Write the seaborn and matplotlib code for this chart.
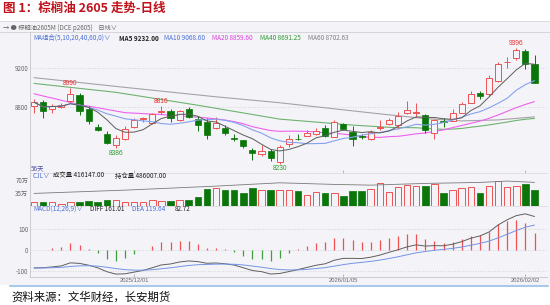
import numpy as np
import pandas as pd
import matplotlib
matplotlib.use("Agg")
import matplotlib.pyplot as plt
import seaborn as sns
from matplotlib.patches import Rectangle
from matplotlib.lines import Line2D

# ---------------- data ----------------
dates_tick_idx = [11, 34, 54]
dates_tick_lbl = ["2025/12/01", "2026/01/05", "2026/02/02"]

opens = [8810, 8850, 8777, 8805, 8862, 8920, 8777, 8600, 8533, 8415,
         8482, 8597, 8680, 8642, 8748, 8766, 8675, 8780, 8685, 8648,
         8588, 8595, 8490, 8465, 8370, 8330, 8360, 8252, 8430, 8482,
         8512, 8535, 8592, 8500, 8630, 8555, 8505, 8478, 8590, 8632,
         8625, 8742, 8745, 8722, 8545, 8660, 8665, 8745, 8845, 8945,
         8935, 9068, 9255, 9295, 9368, 9232]
highs = [8878, 8870, 8830, 8840, 8990, 8946, 8810, 8635, 8556, 8515,
         8614, 8692, 8705, 8745, 8816, 8785, 8768, 8800, 8710, 8690,
         8700, 8620, 8530, 8472, 8385, 8420, 8380, 8420, 8520, 8530,
         8575, 8590, 8620, 8670, 8640, 8615, 8530, 8575, 8670, 8690,
         8750, 8865, 8840, 8730, 8680, 8690, 8778, 8850, 8962, 8960,
         9120, 9255, 9310, 9396, 9390, 9325]
lows = [8746, 8695, 8743, 8790, 8855, 8726, 8631, 8560, 8425, 8386,
        8470, 8590, 8655, 8630, 8730, 8650, 8665, 8695, 8560, 8475,
        8580, 8520, 8455, 8392, 8270, 8310, 8255, 8230, 8395, 8470,
        8505, 8515, 8500, 8495, 8575, 8405, 8480, 8470, 8570, 8620,
        8578, 8735, 8705, 8540, 8482, 8605, 8660, 8738, 8840, 8885,
        8910, 9050, 9200, 9275, 9185, 9045]
closes = [8850, 8760, 8810, 8820, 8936, 8766, 8660, 8568, 8440, 8490,
          8580, 8668, 8690, 8735, 8758, 8695, 8760, 8705, 8625, 8523,
          8642, 8545, 8482, 8405, 8340, 8362, 8285, 8404, 8480, 8478,
          8540, 8557, 8508, 8655, 8585, 8482, 8495, 8548, 8597, 8675,
          8715, 8775, 8752, 8570, 8670, 8652, 8745, 8828, 8935, 8908,
          9098, 9240, 9260, 9375, 9240, 9048]

# moving-average segments that need history before the window (read anchors)
ma20_head_idx = [0, 5, 10, 14, 18]
ma20_head_val = [8935, 8827, 8745, 8726, 8700]
ma40_head_idx = [0, 9, 18, 27, 35]
ma40_head_val = [9040, 8950, 8820, 8680, 8620]
ma60_idx = [0, 10, 20, 27, 37, 43, 47, 51, 55]
ma60_val = [9098, 9000, 8905, 8845, 8743, 8685, 8662, 8672, 8703]

# volume (万手)
volume = [9.9, 8.3, 8.3, 5.5, 9.9, 9.0, 12.7, 11.0, 15.4, 14.6,
          8.3, 9.9, 9.9, 14.6, 12.7, 12.0, 15.4, 14.6, 23.7, 46.8,
          49.6, 42.2, 42.2, 34.7, 49.6, 44.1, 44.1, 42.2, 42.2, 39.4,
          30.3, 36.6, 34.7, 35.6, 26.5, 40.2, 40.2, 44.9, 62.3, 36.6,
          51.3, 56.0, 52.5, 52.5, 57.9, 34.7, 42.2, 49.6, 51.3, 34.7,
          52.5, 67.0, 51.3, 52.5, 57.9, 41.6]
# open interest (万手), read at a few points
oi_idx = [0, 10, 20, 27, 33, 37, 43, 49, 52, 55]
oi_val = [25.4, 32.3, 40.7, 47.7, 44.3, 42.8, 46.4, 48.5, 51.3, 48.6]

# MACD histogram
macd_hist = [1, 2, 8, 14.5, 35, 24, 5, -16, -43, -53,
             -40, -19, -2, 19, 37, 37, 45, 44, 30, 11,
             11, 3, -8, -27, -43, -43, -53, -38, -16, 3,
             19, 32, 37, 57, 60, 48, 37, 40, 48, 60,
             68, 77, 77, 52, 45, 35, 40, 52, 68, 72,
             88, 125, 140, 144, 129, 82.72]
dea_start = -87

ext_high = [(4, "8990"), (14, "8816"), (53, "9396")]
ext_low = [(9, "8386"), (27, "8230")]

# ---------------- styling ----------------
sns.set_theme(style="white")
plt.rcParams['font.family'] = ['Noto Sans CJK SC', 'DejaVu Sans']
plt.rcParams['axes.unicode_minus'] = False

W, H = 550, 305
BG = '#f4f4f8'
UP = '#ee5252'
DN = '#0a760a'
GRID = '#c9c9cf'

fig = plt.figure(figsize=(W / 100, H / 100), dpi=100)
fig.patch.set_facecolor('white')


def box(x0, y0, x1, y1):
    return [x0 / W, 1 - y1 / H, (x1 - x0) / W, (y1 - y0) / H]


def fy(y):
    return 1 - y / H


fig.add_artist(Rectangle((0, fy(285)), 1, (285 - 21) / H, transform=fig.transFigure,
                         facecolor=BG, edgecolor='none', zorder=0))
fig.add_artist(Line2D([0, 1], [fy(21), fy(21)], color='#d4d8e0', lw=0.6, transform=fig.transFigure))
fig.add_artist(Line2D([0, 1], [fy(32), fy(32)], color='#d0d0d6', lw=0.6, transform=fig.transFigure))
fig.add_artist(Line2D([10 / W, 548 / W], [fy(286), fy(286)], color='#a9c9ea', lw=1.5,
                      transform=fig.transFigure))

n = len(closes)
x = np.arange(n)
XL = ((30 - 34) / 9.1, (547 - 34) / 9.1)

ax = fig.add_axes(box(30, 32, 547, 173))
axv = fig.add_axes(box(30, 173, 547, 205.5))
axm = fig.add_axes(box(30, 205.5, 547, 276.7))

for a in (ax, axv, axm):
    a.set_facecolor('none')
    a.set_xlim(*XL)
    for s in ('top', 'right', 'bottom'):
        a.spines[s].set_visible(False)
    a.spines['left'].set_color('#c4c4cc')
    a.spines['left'].set_linewidth(0.6)
    a.tick_params(axis='y', length=0, pad=1.2, labelsize=4.5, labelcolor='#666666')
    a.set_xticks(dates_tick_idx)
    a.tick_params(axis='x', direction='in', length=2.5, width=0.5, color='#a0a0a0',
                  labelbottom=False, bottom=True)
axm.spines['bottom'].set_visible(True)
axm.spines['bottom'].set_color('#c4c4cc')
axm.spines['bottom'].set_linewidth(0.6)
axv.spines['top'].set_visible(True)
axv.spines['top'].set_color('#d6d6dc')
axv.spines['top'].set_linewidth(0.5)
axm.spines['top'].set_visible(True)
axm.spines['top'].set_color('#d6d6dc')
axm.spines['top'].set_linewidth(0.5)

# ---------------- main candles ----------------
ax.set_ylim(8137, 9558)
ax.set_yticks([8800, 9200])
ax.set_yticklabels(['8800', '9200'])
for v in (8800, 9200):
    ax.axhline(v, color=GRID, lw=0.6, ls=(0, (1, 2)), zorder=1)

o = np.array(opens, float); c = np.array(closes, float)
hi = np.array(highs, float); lo = np.array(lows, float)
up = c >= o
col = np.where(up, UP, DN)
ax.vlines(x, lo, hi, colors=col, lw=0.7, zorder=3)
bottom = np.minimum(o, c)
height = np.maximum(np.abs(c - o), 5)
ax.bar(x[up], height[up], bottom=bottom[up], width=0.68, facecolor=BG,
       edgecolor=UP, linewidth=0.7, zorder=4)
ax.bar(x[~up], height[~up], bottom=bottom[~up], width=0.68, facecolor=DN,
       edgecolor=DN, linewidth=0.5, zorder=4)

cs = pd.Series(c)
ma5 = cs.rolling(5, min_periods=1).mean()
ma10 = cs.rolling(10, min_periods=1).mean()
ma20_full = cs.rolling(20).mean()
ma40_full = cs.rolling(40).mean()
ma20_x = ma20_head_idx + list(range(19, n))
ma20_y = ma20_head_val + list(ma20_full.iloc[19:])
ma40_x = ma40_head_idx + list(range(39, n))
ma40_y = ma40_head_val + list(ma40_full.iloc[39:])

sns.lineplot(x=ma60_idx, y=ma60_val, ax=ax, color='#a4a4a8', lw=0.8, zorder=2)
sns.lineplot(x=ma40_x, y=ma40_y, ax=ax, color='#6fb26f', lw=0.8, zorder=2)
sns.lineplot(x=ma20_x, y=ma20_y, ax=ax, color='#f060f0', lw=0.8, zorder=2)
sns.lineplot(x=x, y=ma10.values, ax=ax, color='#86a2ee', lw=0.8, zorder=5)
sns.lineplot(x=x, y=ma5.values, ax=ax, color='#5c5c5c', lw=0.7, zorder=5)
ax.set_xlabel(''); ax.set_ylabel('')

for i, t in ext_high:
    ax.annotate(t, (i, highs[i]), xytext=(0, 0.8), textcoords='offset points',
                ha='center', va='bottom', fontsize=4.8, color='#e83030',
                family=['Liberation Sans', 'DejaVu Sans'])
for i, t in ext_low:
    ax.annotate(t, (i, lows[i]), xytext=(0, -1.2), textcoords='offset points',
                ha='center', va='top', fontsize=4.8, color='#2c9a2c',
                family=['Liberation Sans', 'DejaVu Sans'])

# ---------------- volume ----------------
axv.set_ylim(0, 89.6)
axv.set_yticks([35, 70])
axv.set_yticklabels(['35万', '70万'])
vol = np.array(volume)
axv.bar(x[up], vol[up], width=0.72, facecolor=BG, edgecolor=UP, linewidth=0.7, zorder=3)
axv.bar(x[~up], vol[~up], width=0.72, facecolor=DN, edgecolor=DN, linewidth=0.5, zorder=3)
axo = axv.twinx()
axo.set_ylim(0, 68.3)
axo.set_xlim(*XL)
axo.axis('off')
sns.lineplot(x=oi_idx, y=oi_val, ax=axo, color='#7a7a7a', lw=0.6)

# ---------------- MACD ----------------
axm.set_ylim(-129, 215)
axm.set_yticks([-100, 0, 100])
axm.set_yticklabels(['-100', '0', '100'])
for v in (-100, 0, 100):
    axm.axhline(v, color=GRID, lw=0.6, ls=(0, (1, 2)), zorder=1)
h = np.array(macd_hist)
axm.vlines(x, 0, h, colors=np.where(h >= 0, '#f05050', '#3f9f3f'), lw=0.9, zorder=3)
dea = dea_start + np.concatenate([[0], np.cumsum(h[1:] / 8)])
diff = dea + h / 2
sns.lineplot(x=x, y=diff, ax=axm, color='#5e5e5e', lw=0.7, zorder=4)
sns.lineplot(x=x, y=dea, ax=axm, color='#7393e6', lw=0.7, zorder=4)
axm.set_xlabel(''); axm.set_ylabel('')
axm.set_xticks(dates_tick_idx)
axm.set_xticklabels(dates_tick_lbl)
axm.tick_params(axis='x', labelbottom=True, labelsize=4.2, labelcolor='#666666', pad=1.0)
for lab in axm.get_xticklabels():
    lab.set_family(['Liberation Sans', 'DejaVu Sans'])

# ---------------- texts ----------------
fig.text(3 / W, fy(8.5), '图 1：棕榈油 2605 走势-日线', color='#c0121b', fontsize=9,
         fontweight='bold', va='center', ha='left')
fig.text(3 / W, fy(27.5), '→ ● 棕榈油2605M (DCE p2605)    日线∨', color='#666666',
         fontsize=4.5, va='center', ha='left')


def seg(items, y, fs=4.6):
    for txt, xp, colr, bold in items:
        fig.text(xp / W, fy(y), txt, color=colr, fontsize=fs, va='center', ha='left',
                 fontweight='bold' if bold else 'normal')


seg([('MA组合(5,10,20,40,60,0)∨', 33, '#4a6fd6', False),
     ('MA5 9232.00', 119, '#222222', True),
     ('MA10 9068.60', 164, '#4a6fd6', False),
     ('MA20 8859.60', 212, '#e040e0', False),
     ('MA40 8691.25', 260, '#2e9a2e', False),
     ('MA60 8702.63', 308, '#808080', False)], 38.3)
seg([('CJL∨', 33, '#4a6fd6', False),
     ('成交量 416147.00', 53, '#222222', False),
     ('持仓量 486007.00', 115, '#222222', False)], 175.8)
seg([('MACD(12,26,9)∨', 33, '#4a6fd6', False),
     ('DIFF 161.01', 90, '#222222', False),
     ('DEA 119.64', 132, '#4a6fd6', False),
     ('82.72', 175, '#222222', False)], 209.3)
fig.text(31 / W, fy(168.3), '56天', color='#4f4fa0', fontsize=4.6, va='center', ha='left')
fig.text(11 / W, fy(297), '资料来源：文华财经，长安期货', color='#111111', fontsize=8.2,
         va='center', ha='left')

fig.savefig('out.png', dpi=100, facecolor='white')
